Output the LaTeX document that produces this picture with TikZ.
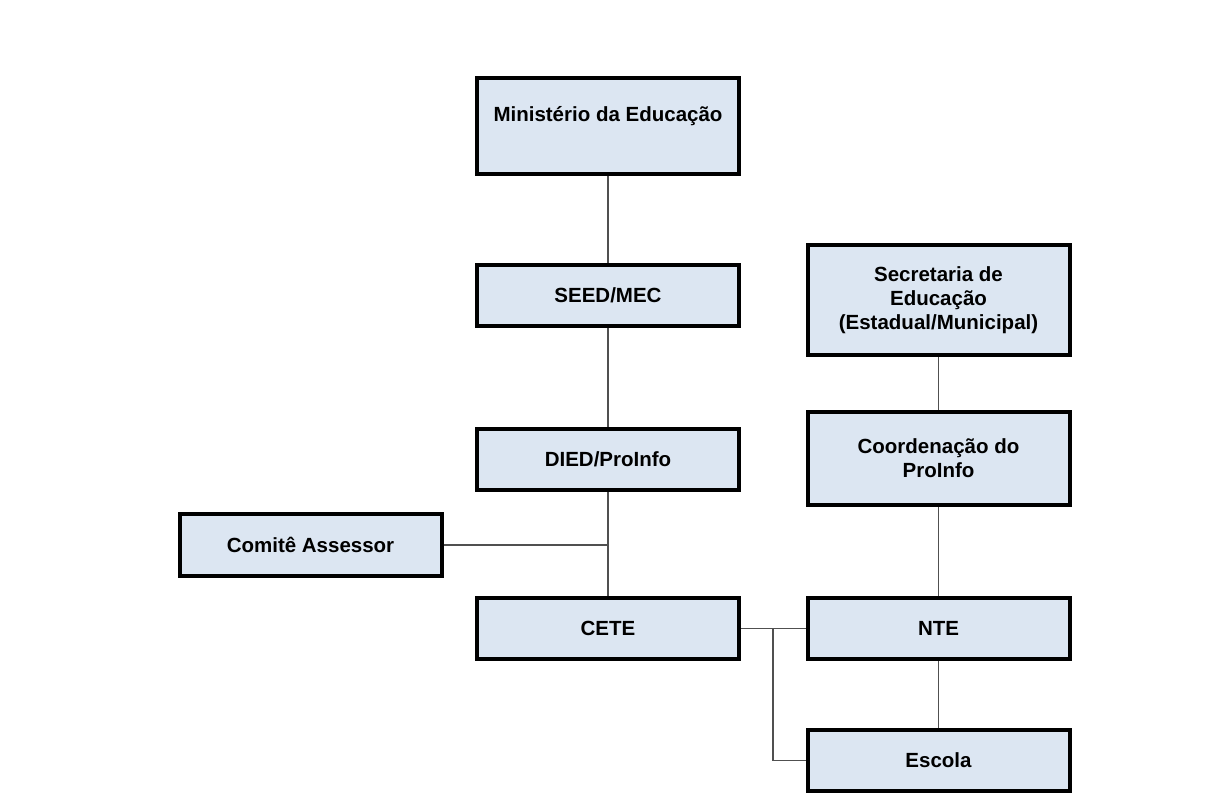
\documentclass[tikz,border=0pt]{standalone}
\usepackage{fontspec}
\setmainfont{Liberation Sans}
\usepackage{xcolor}
\usetikzlibrary{positioning}
\definecolor{boxfill}{RGB}{220,230,242}
\definecolor{linkgray}{RGB}{80,80,80}

\begin{document}
\begin{tikzpicture}[
  x=1pt, y=-1pt,
  font=\fontsize{20.5}{24}\selectfont\bfseries,
  orgbox/.style={draw=black, line width=4pt, fill=boxfill, align=center, inner sep=0pt, minimum width=262pt},
  link/.style={draw=linkgray, line width=1.8pt}
]
  \useasboundingbox (0,0) rectangle (1209,799);

  % --- federal column ---
  \node[orgbox, minimum height=96pt] (mec) at (608,126) {Ministério da Educação\\\mbox{}};
  \node[orgbox, minimum height=61pt] (seed) at (608,295.5) {SEED/MEC};
  \node[orgbox, minimum height=61pt] (died) at (608,459.5) {DIED/ProInfo};
  \node[orgbox, minimum height=62pt] (comite) at (310.5,545) {Comitê Assessor};
  \node[orgbox, minimum height=61pt] (cete) at (608,628.5) {CETE};

  % --- state / municipal column ---
  \node[orgbox, minimum height=110pt] (sec) at (938.5,300) {Secretaria de\\Educação\\(Estadual/Municipal)};
  \node[orgbox, minimum height=93pt] (coord) at (938.5,458.5) {Coordenação do\\ProInfo};
  \node[orgbox, minimum height=61pt] (nte) at (938.5,628.5) {NTE};
  \node[orgbox, minimum height=61pt] (escola) at (938.5,760.5) {Escola};

  % connectors
  \draw[link] (mec) -- (seed);
  \draw[link] (seed) -- (died);
  \draw[link] (died) -- (cete);
  \draw[link] (comite.east) -- (comite.east -| died.south);
  \draw[link] (sec) -- (coord);
  \draw[link] (coord) -- (nte);
  \draw[link] (nte) -- (escola);
  \draw[link] (cete.east) -- (nte.west);
  \coordinate (split) at (773,628.5);
  \draw[link] (split) |- (escola.west);
\end{tikzpicture}
\end{document}
